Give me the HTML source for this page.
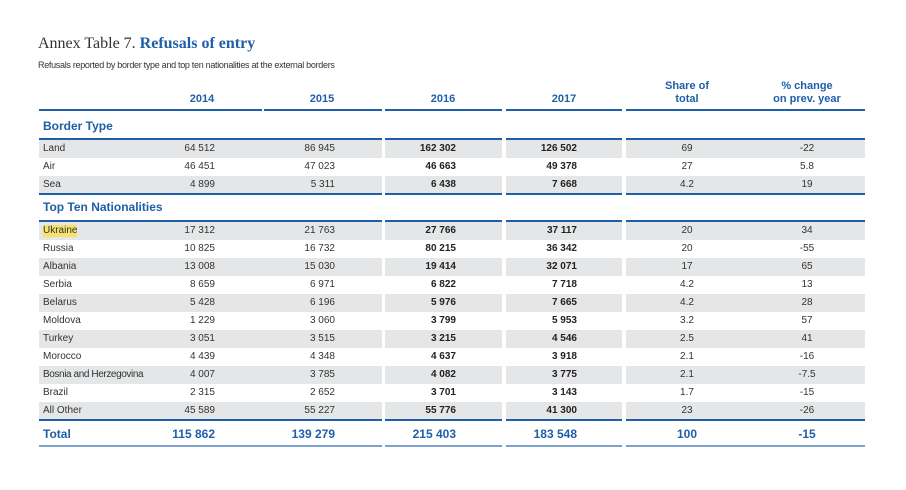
<!DOCTYPE html>
<html><head><meta charset="utf-8"><style>
body{margin:0;width:906px;height:490px;background:#fff;position:relative;overflow:hidden;font-family:"Liberation Sans",sans-serif;}
.a{position:absolute;white-space:nowrap}
.t{left:38px;top:35px;font-family:"Liberation Serif",serif;font-size:16px;color:#333}
.t b{color:#1f5fa8}
.sub{left:38px;top:60px;font-size:9px;color:#333;letter-spacing:-0.3px}
.h{font-size:11px;font-weight:bold;color:#1f5fa8;line-height:13px}
.sec{left:43px;font-size:12px;font-weight:bold;color:#1f5fa8}
.ln{position:absolute;height:2px;background:#1f5fa8}
.r{position:absolute;left:0;width:906px;height:18px;font-size:10px;color:#333;line-height:18px}
.r .g{position:absolute;top:0;height:18px}
.s .g{background:#e5e6e7}
.r span{position:absolute;top:0}
.l{left:43px}
.c1{left:140px;width:75px;text-align:right}
.c2{left:260px;width:75px;text-align:right}
.c3{left:381px;width:75px;text-align:right;font-weight:bold;color:#222}
.c4{left:502px;width:75px;text-align:right;font-weight:bold;color:#222}
.c5{left:647px;width:80px;text-align:center}
.c6{left:767px;width:80px;text-align:center}
.g1{left:39px;width:343px}.g2{left:385px;width:117px}.g3{left:506px;width:116px}.g4{left:626px;width:239px}
.tot{font-size:12px;font-weight:bold;color:#1f5fa8}
.tot .c3,.tot .c4{color:#1f5fa8}
</style></head><body>
<div class="a t">Annex Table 7. <b>Refusals of entry</b></div>
<div class="a sub">Refusals reported by border type and top ten nationalities at the external borders</div>
<div class="a h" style="left:140px;width:124px;text-align:center;top:93px">2014</div>
<div class="a h" style="left:260px;width:124px;text-align:center;top:93px">2015</div>
<div class="a h" style="left:381px;width:124px;text-align:center;top:93px">2016</div>
<div class="a h" style="left:502px;width:124px;text-align:center;top:93px">2017</div>
<div class="a h" style="left:647px;width:80px;text-align:center;top:80px">Share of<br>total</div>
<div class="a h" style="left:757px;width:100px;text-align:center;top:80px">% change<br>on prev. year</div>
<div class="ln" style="top:109px;left:39px;width:223px"></div><div class="ln" style="top:109px;left:264px;width:118px"></div><div class="ln" style="top:109px;left:385px;width:117px"></div><div class="ln" style="top:109px;left:506px;width:116px"></div><div class="ln" style="top:109px;left:626px;width:239px"></div>
<div class="a sec" style="top:119px">Border Type</div>
<div class="ln" style="top:138px;left:39px;width:343px"></div><div class="ln" style="top:138px;left:385px;width:117px"></div><div class="ln" style="top:138px;left:506px;width:116px"></div><div class="ln" style="top:138px;left:626px;width:239px"></div>
<div class="r s" style="top:140px"><div class="g g1"></div><div class="g g2"></div><div class="g g3"></div><div class="g g4"></div><span class="l">Land</span><span class="c1">64 512</span><span class="c2">86 945</span><span class="c3">162 302</span><span class="c4">126 502</span><span class="c5">69</span><span class="c6">-22</span></div>
<div class="r" style="top:158px"><span class="l">Air</span><span class="c1">46 451</span><span class="c2">47 023</span><span class="c3">46 663</span><span class="c4">49 378</span><span class="c5">27</span><span class="c6">5.8</span></div>
<div class="r s" style="top:176px"><div class="g g1"></div><div class="g g2"></div><div class="g g3"></div><div class="g g4"></div><span class="l">Sea</span><span class="c1">4 899</span><span class="c2">5 311</span><span class="c3">6 438</span><span class="c4">7 668</span><span class="c5">4.2</span><span class="c6">19</span></div>
<div class="ln" style="top:193px;left:39px;width:343px"></div><div class="ln" style="top:193px;left:385px;width:117px"></div><div class="ln" style="top:193px;left:506px;width:116px"></div><div class="ln" style="top:193px;left:626px;width:239px"></div>
<div class="a sec" style="top:200px">Top Ten Nationalities</div>
<div class="ln" style="top:220px;left:39px;width:343px"></div><div class="ln" style="top:220px;left:385px;width:117px"></div><div class="ln" style="top:220px;left:506px;width:116px"></div><div class="ln" style="top:220px;left:626px;width:239px"></div>
<div class="r s" style="top:222px"><div class="g g1"></div><div class="g g2"></div><div class="g g3"></div><div class="g g4"></div><span class="l" style="background:#f7e36b;line-height:12px;top:3px">Ukraine</span><span class="c1">17 312</span><span class="c2">21 763</span><span class="c3">27 766</span><span class="c4">37 117</span><span class="c5">20</span><span class="c6">34</span></div>
<div class="r" style="top:240px"><span class="l">Russia</span><span class="c1">10 825</span><span class="c2">16 732</span><span class="c3">80 215</span><span class="c4">36 342</span><span class="c5">20</span><span class="c6">-55</span></div>
<div class="r s" style="top:258px"><div class="g g1"></div><div class="g g2"></div><div class="g g3"></div><div class="g g4"></div><span class="l">Albania</span><span class="c1">13 008</span><span class="c2">15 030</span><span class="c3">19 414</span><span class="c4">32 071</span><span class="c5">17</span><span class="c6">65</span></div>
<div class="r" style="top:276px"><span class="l">Serbia</span><span class="c1">8 659</span><span class="c2">6 971</span><span class="c3">6 822</span><span class="c4">7 718</span><span class="c5">4.2</span><span class="c6">13</span></div>
<div class="r s" style="top:294px"><div class="g g1"></div><div class="g g2"></div><div class="g g3"></div><div class="g g4"></div><span class="l">Belarus</span><span class="c1">5 428</span><span class="c2">6 196</span><span class="c3">5 976</span><span class="c4">7 665</span><span class="c5">4.2</span><span class="c6">28</span></div>
<div class="r" style="top:312px"><span class="l">Moldova</span><span class="c1">1 229</span><span class="c2">3 060</span><span class="c3">3 799</span><span class="c4">5 953</span><span class="c5">3.2</span><span class="c6">57</span></div>
<div class="r s" style="top:330px"><div class="g g1"></div><div class="g g2"></div><div class="g g3"></div><div class="g g4"></div><span class="l">Turkey</span><span class="c1">3 051</span><span class="c2">3 515</span><span class="c3">3 215</span><span class="c4">4 546</span><span class="c5">2.5</span><span class="c6">41</span></div>
<div class="r" style="top:348px"><span class="l">Morocco</span><span class="c1">4 439</span><span class="c2">4 348</span><span class="c3">4 637</span><span class="c4">3 918</span><span class="c5">2.1</span><span class="c6">-16</span></div>
<div class="r s" style="top:366px"><div class="g g1"></div><div class="g g2"></div><div class="g g3"></div><div class="g g4"></div><span class="l" style="letter-spacing:-0.4px">Bosnia and Herzegovina</span><span class="c1">4 007</span><span class="c2">3 785</span><span class="c3">4 082</span><span class="c4">3 775</span><span class="c5">2.1</span><span class="c6">-7.5</span></div>
<div class="r" style="top:384px"><span class="l">Brazil</span><span class="c1">2 315</span><span class="c2">2 652</span><span class="c3">3 701</span><span class="c4">3 143</span><span class="c5">1.7</span><span class="c6">-15</span></div>
<div class="r s" style="top:402px"><div class="g g1"></div><div class="g g2"></div><div class="g g3"></div><div class="g g4"></div><span class="l">All Other</span><span class="c1">45 589</span><span class="c2">55 227</span><span class="c3">55 776</span><span class="c4">41 300</span><span class="c5">23</span><span class="c6">-26</span></div>
<div class="ln" style="top:419px;left:39px;width:343px"></div><div class="ln" style="top:419px;left:385px;width:117px"></div><div class="ln" style="top:419px;left:506px;width:116px"></div><div class="ln" style="top:419px;left:626px;width:239px"></div>
<div class="r tot" style="top:425px"><span class="l">Total</span><span class="c1">115 862</span><span class="c2">139 279</span><span class="c3">215 403</span><span class="c4">183 548</span><span class="c5">100</span><span class="c6">-15</span></div>
<div class="ln" style="top:445px;left:39px;width:343px;background:#7fa3cf"></div><div class="ln" style="top:445px;left:385px;width:117px;background:#7fa3cf"></div><div class="ln" style="top:445px;left:506px;width:116px;background:#7fa3cf"></div><div class="ln" style="top:445px;left:626px;width:239px;background:#7fa3cf"></div>
</body></html>
